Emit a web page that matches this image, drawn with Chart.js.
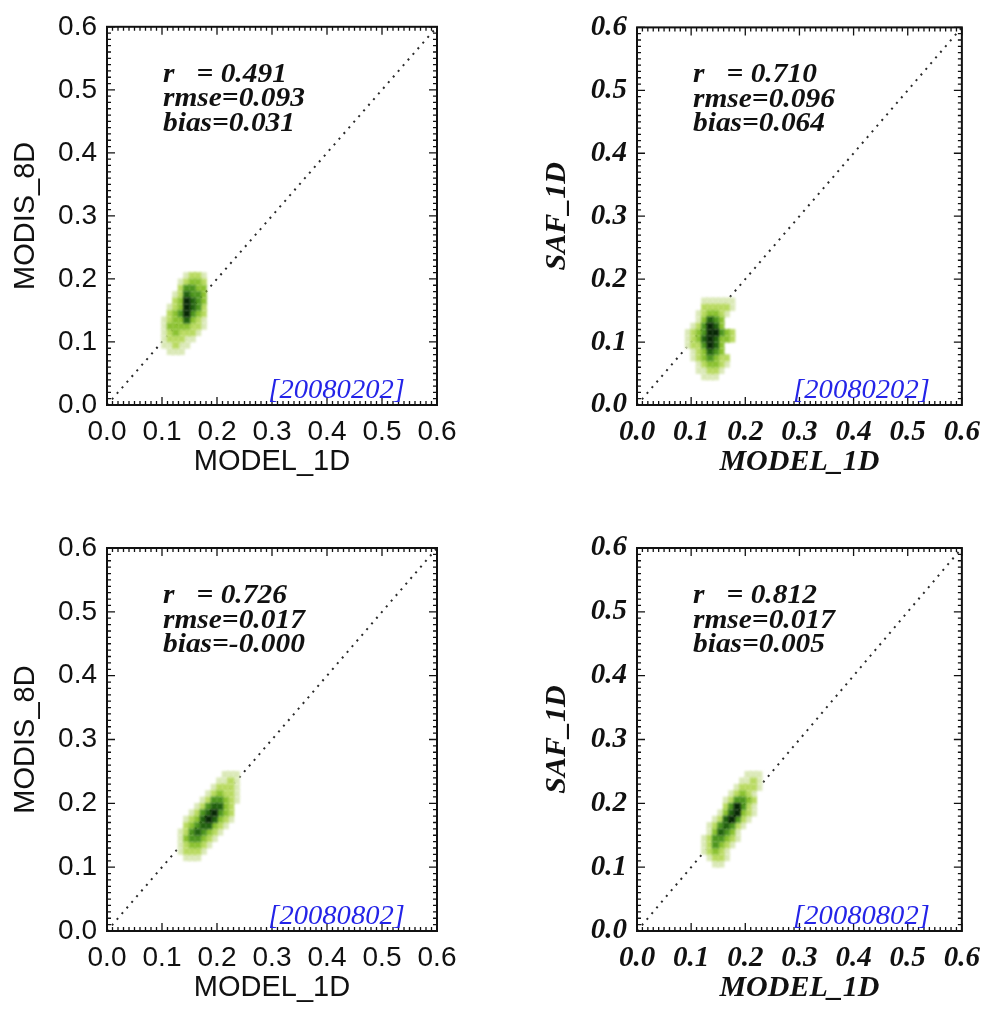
<!DOCTYPE html>
<html>
<head>
<meta charset="utf-8">
<script src="https://cdn.jsdelivr.net/npm/chart.js@4.4.1/dist/chart.umd.min.js"></script>
<style>
  html, body { margin: 0; padding: 0; background: #fff; overflow: hidden; }
  #wrap { position: relative; width: 990px; height: 1012px; }
  canvas { position: absolute; }
</style>
</head>
<body>
<div id="wrap">
  <canvas id="p1" width="495" height="506" style="left:0;top:0"></canvas>
  <canvas id="p2" width="495" height="506" style="left:495px;top:0"></canvas>
  <canvas id="p3" width="495" height="506" style="left:0;top:506px"></canvas>
  <canvas id="p4" width="495" height="506" style="left:495px;top:506px"></canvas>
</div>
<script>
// common axis range
const axisMin = 0.0;
const axisMax = 0.6;
const axisStep = 0.1;
const minorStep = 0.01;
const binSize = 0.01;

const xTitle = 'MODEL_1D';
const yTitles = ['MODIS_8D', 'SAF_1D', 'MODIS_8D', 'SAF_1D'];
const dateTags = ['[20080202]', '[20080202]', '[20080802]', '[20080802]'];
const statR = ['0.491', '0.710', '0.726', '0.812'];
const statRmse = ['0.093', '0.096', '0.017', '0.017'];
const statBias = ['0.031', '0.064', '-0.000', '0.005'];

// density bins: lower edges of columns (x) and rows (y), level 0..6 per cell
const p1Cols = [0.10, 0.11, 0.12, 0.13, 0.14, 0.15, 0.16, 0.17];
const p1Rows = [0.20, 0.19, 0.18, 0.17, 0.16, 0.15, 0.14, 0.13, 0.12, 0.11, 0.10, 0.09, 0.08];
const p1Levels = [
  [0, 0, 0, 0, 1, 2, 2, 1],
  [0, 0, 0, 1, 2, 3, 3, 2],
  [0, 0, 0, 2, 4, 4, 3, 3],
  [0, 0, 1, 2, 5, 4, 4, 3],
  [0, 0, 2, 3, 6, 5, 4, 3],
  [0, 1, 2, 3, 6, 5, 4, 2],
  [0, 2, 3, 4, 6, 4, 3, 2],
  [1, 2, 3, 3, 5, 3, 2, 1],
  [1, 3, 3, 3, 3, 2, 2, 1],
  [1, 2, 3, 2, 2, 2, 1, 0],
  [1, 2, 2, 2, 1, 1, 0, 0],
  [1, 1, 2, 1, 1, 0, 0, 0],
  [0, 1, 1, 1, 0, 0, 0, 0]
];

const p2Cols = [0.09, 0.10, 0.11, 0.12, 0.13, 0.14, 0.15, 0.16, 0.17];
const p2Rows = [0.16, 0.15, 0.14, 0.13, 0.12, 0.11, 0.10, 0.09, 0.08, 0.07, 0.06, 0.05, 0.04];
const p2Levels = [
  [0, 0, 0, 1, 1, 1, 1, 1, 1],
  [0, 0, 0, 2, 2, 2, 2, 2, 1],
  [0, 0, 1, 2, 3, 3, 2, 1, 0],
  [0, 0, 1, 3, 5, 4, 3, 0, 0],
  [0, 1, 2, 4, 6, 5, 3, 0, 0],
  [1, 2, 3, 4, 6, 6, 4, 3, 2],
  [1, 2, 3, 5, 6, 5, 3, 3, 2],
  [1, 2, 2, 4, 6, 5, 3, 0, 0],
  [0, 1, 2, 3, 5, 4, 3, 0, 0],
  [0, 1, 2, 3, 4, 3, 2, 2, 0],
  [0, 0, 1, 2, 3, 3, 2, 1, 0],
  [0, 0, 1, 1, 2, 2, 1, 0, 0],
  [0, 0, 0, 1, 1, 1, 0, 0, 0]
];

const p3Cols = [0.13, 0.14, 0.15, 0.16, 0.17, 0.18, 0.19, 0.20, 0.21, 0.22, 0.23];
const p3Rows = [0.24, 0.23, 0.22, 0.21, 0.20, 0.19, 0.18, 0.17, 0.16, 0.15, 0.14, 0.13, 0.12, 0.11];
const p3Levels = [
  [0, 0, 0, 0, 0, 0, 0, 0, 1, 1, 1],
  [0, 0, 0, 0, 0, 0, 0, 1, 1, 2, 1],
  [0, 0, 0, 0, 0, 0, 1, 2, 2, 2, 1],
  [0, 0, 0, 0, 0, 1, 2, 3, 2, 2, 1],
  [0, 0, 0, 0, 1, 2, 4, 4, 3, 2, 1],
  [0, 0, 0, 1, 2, 4, 5, 5, 3, 2, 0],
  [0, 0, 1, 2, 4, 5, 6, 4, 3, 2, 0],
  [0, 1, 2, 3, 5, 6, 5, 3, 2, 1, 0],
  [0, 2, 3, 4, 5, 5, 3, 2, 1, 0, 0],
  [1, 2, 4, 5, 4, 3, 2, 1, 0, 0, 0],
  [1, 3, 4, 4, 3, 2, 1, 0, 0, 0, 0],
  [1, 2, 3, 3, 2, 1, 0, 0, 0, 0, 0],
  [1, 2, 2, 2, 1, 0, 0, 0, 0, 0, 0],
  [0, 1, 1, 1, 0, 0, 0, 0, 0, 0, 0]
];

const p4Cols = [0.12, 0.13, 0.14, 0.15, 0.16, 0.17, 0.18, 0.19, 0.20, 0.21, 0.22];
const p4Rows = [0.24, 0.23, 0.22, 0.21, 0.20, 0.19, 0.18, 0.17, 0.16, 0.15, 0.14, 0.13, 0.12, 0.11, 0.10];
const p4Levels = [
  [0, 0, 0, 0, 0, 0, 0, 0, 1, 1, 1],
  [0, 0, 0, 0, 0, 0, 0, 1, 1, 2, 1],
  [0, 0, 0, 0, 0, 0, 1, 2, 2, 2, 1],
  [0, 0, 0, 0, 0, 1, 2, 3, 2, 1, 0],
  [0, 0, 0, 0, 1, 2, 4, 4, 3, 2, 0],
  [0, 0, 0, 0, 2, 4, 6, 4, 2, 1, 0],
  [0, 0, 0, 1, 3, 5, 6, 3, 2, 1, 0],
  [0, 0, 1, 2, 5, 6, 4, 2, 1, 0, 0],
  [0, 1, 2, 4, 5, 4, 2, 1, 0, 0, 0],
  [0, 1, 3, 5, 4, 3, 1, 0, 0, 0, 0],
  [1, 2, 4, 4, 3, 2, 1, 0, 0, 0, 0],
  [1, 2, 4, 3, 2, 1, 0, 0, 0, 0, 0],
  [1, 2, 3, 2, 1, 0, 0, 0, 0, 0, 0],
  [0, 1, 2, 2, 1, 0, 0, 0, 0, 0, 0],
  [0, 0, 1, 1, 0, 0, 0, 0, 0, 0, 0]
];

// colour table for the density levels (light -> dark)
const levelColors = [null, '#dbe9b8', '#b9da62', '#8cc232', '#4f961f', '#23620f', '#082805'];

const SANS = '"Liberation Sans", Arial, Helvetica, sans-serif';
const SERIF = '"Liberation Serif", "Times New Roman", serif';

// turn a level grid into scatter points, lightest first so dark cells sit on top
function densityPoints(cols, rows, levels) {
  const pts = [];
  rows.forEach((yv, r) => {
    cols.forEach((xv, c) => {
      const lv = levels[r][c];
      if (lv > 0) pts.push({x: xv + binSize / 2, y: yv + binSize / 2, lv: lv});
    });
  });
  return pts.sort((a, b) => a.lv - b.lv);
}

// inward major/minor ticks on all four sides plus the box
const frameTicks = {
  id: 'frameTicks',
  afterDraw(chart) {
    const {ctx, chartArea: a, scales: {x, y}} = chart;
    const n = Math.round((axisMax - axisMin) / minorStep);
    const every = Math.round(axisStep / minorStep);
    ctx.save();
    ctx.strokeStyle = '#111';
    ctx.lineWidth = 1.3;
    ctx.beginPath();
    for (let i = 0; i <= n; i++) {
      const v = axisMin + i * minorStep;
      const len = i % every === 0 ? 8 : 4;
      const px = x.getPixelForValue(v);
      const py = y.getPixelForValue(v);
      ctx.moveTo(px, a.bottom); ctx.lineTo(px, a.bottom - len);
      ctx.moveTo(px, a.top); ctx.lineTo(px, a.top + len);
      ctx.moveTo(a.left, py); ctx.lineTo(a.left + len, py);
      ctx.moveTo(a.right, py); ctx.lineTo(a.right - len, py);
    }
    ctx.stroke();
    ctx.lineWidth = 2;
    ctx.strokeRect(a.left, a.top, a.right - a.left, a.bottom - a.top);
    ctx.restore();
  }
};

// soften the density cells a little
const softCells = {
  id: 'softCells',
  beforeDatasetDraw(chart, args) {
    if (chart.data.datasets[args.index].soft) {
      chart.ctx.save();
      chart.ctx.filter = 'blur(1px)';
    }
  },
  afterDatasetDraw(chart, args) {
    if (chart.data.datasets[args.index].soft) chart.ctx.restore();
  }
};

function stretchedText(ctx, text, x, y, sx, align) {
  ctx.save();
  ctx.translate(x, y);
  ctx.scale(sx, 1);
  ctx.textAlign = align;
  ctx.fillText(text, 0, 0);
  ctx.restore();
}

// statistics block and date tag inside the plot
const statsText = {
  id: 'statsText',
  afterDraw(chart, args, opts) {
    const {ctx, chartArea: a} = chart;
    ctx.save();
    ctx.textBaseline = 'alphabetic';
    ctx.fillStyle = '#111';
    ctx.font = 'italic bold 27px ' + SERIF;
    opts.lines.forEach((t, i) => {
      stretchedText(ctx, t, a.left + 56, a.top + 55 + i * 24.5, 1.09, 'left');
    });
    ctx.fillStyle = '#2424e8';
    ctx.font = 'italic 27px ' + SERIF;
    stretchedText(ctx, opts.date, a.right - 32, a.bottom - 7, 1.06, 'right');
    ctx.restore();
  }
};

function makePanel(canvasId, k, cols, rows, levels) {
  const rightCol = k % 2 === 1;
  const bottomRow = k >= 2;
  const tickFont = rightCol
    ? {family: SERIF, size: 29, style: 'italic', weight: 'bold'}
    : {family: SANS, size: 28};
  const titleFont = rightCol
    ? {family: SERIF, size: 30, style: 'italic', weight: 'bold'}
    : {family: SANS, size: 29};
  const yWidth = rightCol ? 142 : 107;
  const xHeight = bottomRow ? 81 : 101;
  const half = titleFont.size * 0.6;

  new Chart(document.getElementById(canvasId), {
    type: 'scatter',
    data: {
      datasets: [{
        data: densityPoints(cols, rows, levels),
        soft: true,
        order: 0,
        pointStyle: 'rect',
        pointRadius: 5,
        borderWidth: 0,
        backgroundColor: c => levelColors[c.raw ? c.raw.lv : 1]
      }, {
        type: 'line',
        data: [{x: axisMin, y: axisMin}, {x: axisMax, y: axisMax}],
        order: 1,
        borderColor: '#2a2a2a',
        borderWidth: 2,
        borderDash: [2, 5.5],
        pointRadius: 0,
        fill: false
      }]
    },
    options: {
      responsive: false,
      animation: false,
      events: [],
      layout: {padding: {top: bottomRow ? 42 : 22, right: rightCol ? 23 : 58, left: 0, bottom: 0}},
      plugins: {
        legend: {display: false},
        tooltip: {enabled: false},
        statsText: {
          lines: ['r   = ' + statR[k], 'rmse=' + statRmse[k], 'bias=' + statBias[k]],
          date: dateTags[k]
        }
      },
      scales: {
        x: {
          type: 'linear',
          min: axisMin,
          max: axisMax,
          grid: {display: false, drawTicks: false},
          border: {display: false},
          ticks: {
            stepSize: axisStep,
            padding: 10,
            color: '#111',
            font: tickFont,
            maxRotation: 0,
            callback: v => v.toFixed(1)
          },
          title: {
            display: true,
            text: xTitle,
            color: '#111',
            font: titleFont,
            padding: {top: 0, bottom: (bottomRow ? 24 : 44) - half}
          },
          afterFit: s => { s.height = xHeight; }
        },
        y: {
          type: 'linear',
          min: axisMin,
          max: axisMax,
          grid: {display: false, drawTicks: false},
          border: {display: false},
          ticks: {
            stepSize: axisStep,
            padding: 10,
            color: '#111',
            font: tickFont,
            callback: v => v.toFixed(1)
          },
          title: {
            display: true,
            text: yTitles[k],
            color: '#111',
            font: titleFont,
            padding: {top: (rightCol ? 62 : 26) - half, bottom: 0}
          },
          afterFit: s => { s.width = yWidth; }
        }
      }
    },
    plugins: [softCells, frameTicks, statsText]
  });
}

makePanel('p1', 0, p1Cols, p1Rows, p1Levels);
makePanel('p2', 1, p2Cols, p2Rows, p2Levels);
makePanel('p3', 2, p3Cols, p3Rows, p3Levels);
makePanel('p4', 3, p4Cols, p4Rows, p4Levels);
</script>
</body>
</html>
